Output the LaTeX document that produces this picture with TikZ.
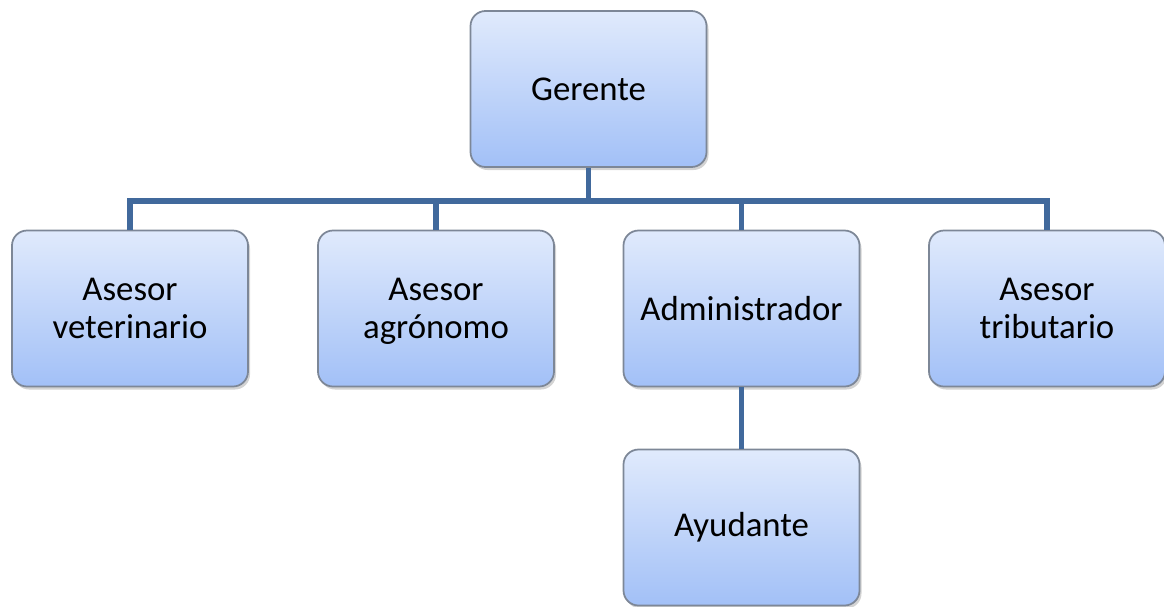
\documentclass[tikz,border=0pt]{standalone}
\usepackage{fontspec}
\setmainfont{Carlito}
\usetikzlibrary{shadows}
\definecolor{boxtop}{HTML}{E0EAFC}
\definecolor{boxbot}{HTML}{A2C0F7}
\definecolor{boxline}{HTML}{7D8797}
\definecolor{linkblue}{HTML}{41699C}
\tikzstyle{orgbox} = [rectangle, rounded corners=0.15cm, draw=boxline, line width=0.5pt, top color=boxtop, bottom color=boxbot, minimum height=1.56cm, minimum width=2.36cm, align=center, font=\fontsize{9.9}{10.8}\selectfont, drop shadow={shadow xshift=0.02cm, shadow yshift=-0.03cm, opacity=0.35}]
\tikzstyle{link} = [draw=linkblue, line width=1.6pt]

\begin{document}
\begin{tikzpicture}
            \useasboundingbox (0,0) rectangle (11.64,-6.06);

            \node (ger) [orgbox] at (5.885,-0.89) {Gerente};
            \node (vet) [orgbox] at (1.30,-3.085) {Asesor\\veterinario};
            \node (agr) [orgbox] at (4.36,-3.085) {Asesor\\\smash{agrónomo}};
            \node (adm) [orgbox] at (7.415,-3.085) {Administrador};
            \node (tri) [orgbox] at (10.47,-3.085) {Asesor\\tributario};
            \node (ayu) [orgbox] at (7.415,-5.275) {Ayudante};

            \coordinate (bus) at (5.885,-2.01);

            \draw [link] (ger.south) -- (bus);
            \foreach \n in {vet,agr,adm,tri}
            {
                \draw [link] (bus) -| (\n.north);
            }
            \draw [link] (adm.south) -- (ayu.north);
        \end{tikzpicture}
\end{document}
